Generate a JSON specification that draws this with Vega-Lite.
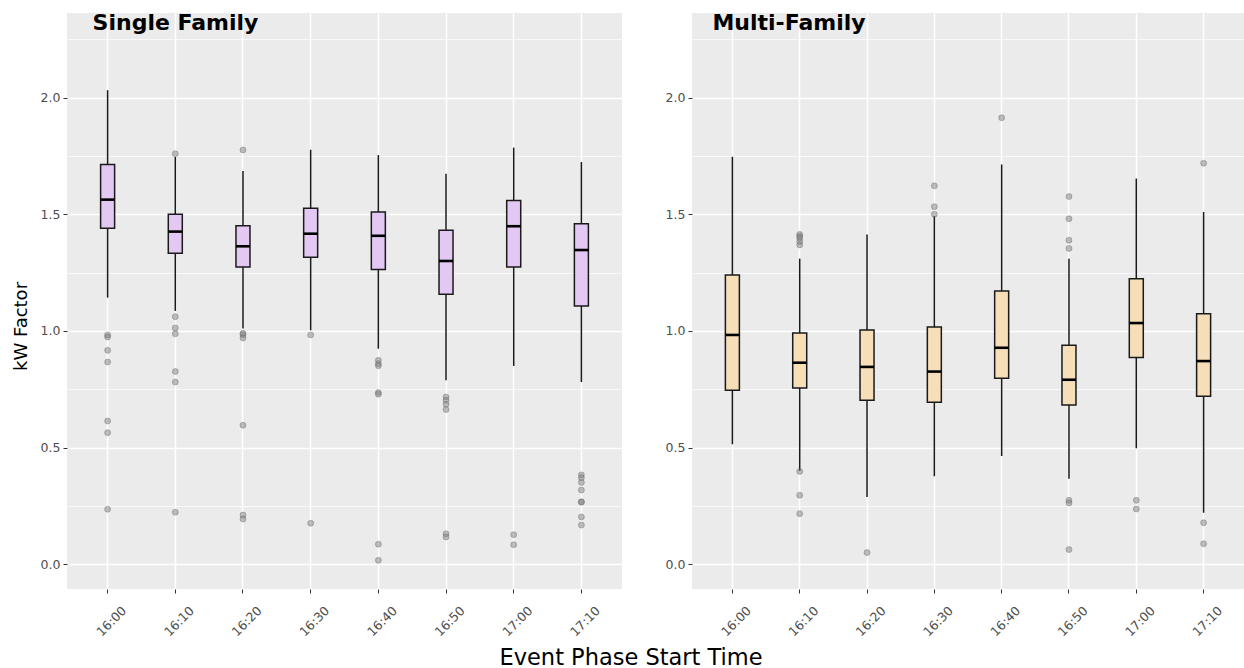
{
  "$schema": "https://vega.github.io/schema/vega-lite/v6.json",
  "background": "white",
  "padding": {"left": 12, "top": 12, "right": 0, "bottom": 0},
  "spacing": 43,
  "title": {"text": "Event Phase Start Time", "orient": "bottom", "anchor": "middle", "font": "DejaVu Sans", "fontSize": 22.5, "fontWeight": "normal", "color": "black", "offset": 9, "dx": 3},
  "datasets": {
    "panels": [
      {"panel": "SF", "label": "Single Family", "time": "16:00", "pos": 2.29},
      {"panel": "MF", "label": "Multi-Family", "time": "16:00", "pos": 2.29}
    ],
    "boxes": [
      {"panel": "SF", "time": "16:00", "lower": 1.143, "q1": 1.440, "median": 1.563, "q3": 1.714, "upper": 2.032},
      {"panel": "SF", "time": "16:10", "lower": 1.086, "q1": 1.333, "median": 1.426, "q3": 1.500, "upper": 1.746},
      {"panel": "SF", "time": "16:20", "lower": 1.011, "q1": 1.274, "median": 1.363, "q3": 1.451, "upper": 1.686},
      {"panel": "SF", "time": "16:30", "lower": 1.003, "q1": 1.316, "median": 1.417, "q3": 1.526, "upper": 1.777},
      {"panel": "SF", "time": "16:40", "lower": 0.924, "q1": 1.263, "median": 1.408, "q3": 1.510, "upper": 1.754},
      {"panel": "SF", "time": "16:50", "lower": 0.789, "q1": 1.157, "median": 1.300, "q3": 1.432, "upper": 1.674},
      {"panel": "SF", "time": "17:00", "lower": 0.850, "q1": 1.274, "median": 1.449, "q3": 1.559, "upper": 1.786},
      {"panel": "SF", "time": "17:10", "lower": 0.781, "q1": 1.107, "median": 1.347, "q3": 1.460, "upper": 1.724},
      {"panel": "MF", "time": "16:00", "lower": 0.514, "q1": 0.746, "median": 0.983, "q3": 1.240, "upper": 1.747},
      {"panel": "MF", "time": "16:10", "lower": 0.400, "q1": 0.756, "median": 0.864, "q3": 0.991, "upper": 1.310},
      {"panel": "MF", "time": "16:20", "lower": 0.288, "q1": 0.703, "median": 0.846, "q3": 1.004, "upper": 1.414},
      {"panel": "MF", "time": "16:30", "lower": 0.377, "q1": 0.694, "median": 0.826, "q3": 1.017, "upper": 1.493},
      {"panel": "MF", "time": "16:40", "lower": 0.464, "q1": 0.797, "median": 0.928, "q3": 1.171, "upper": 1.714},
      {"panel": "MF", "time": "16:50", "lower": 0.367, "q1": 0.683, "median": 0.791, "q3": 0.939, "upper": 1.310},
      {"panel": "MF", "time": "17:00", "lower": 0.497, "q1": 0.886, "median": 1.034, "q3": 1.224, "upper": 1.654},
      {"panel": "MF", "time": "17:10", "lower": 0.221, "q1": 0.720, "median": 0.871, "q3": 1.074, "upper": 1.510}
    ],
    "outliers": [
      {"panel": "SF", "time": "16:00", "value": 0.983}, {"panel": "SF", "time": "16:00", "value": 0.974}, {"panel": "SF", "time": "16:00", "value": 0.917}, {"panel": "SF", "time": "16:00", "value": 0.867}, {"panel": "SF", "time": "16:00", "value": 0.614}, {"panel": "SF", "time": "16:00", "value": 0.564}, {"panel": "SF", "time": "16:00", "value": 0.236},
      {"panel": "SF", "time": "16:10", "value": 1.760}, {"panel": "SF", "time": "16:10", "value": 1.061}, {"panel": "SF", "time": "16:10", "value": 1.013}, {"panel": "SF", "time": "16:10", "value": 0.988}, {"panel": "SF", "time": "16:10", "value": 0.826}, {"panel": "SF", "time": "16:10", "value": 0.781}, {"panel": "SF", "time": "16:10", "value": 0.223},
      {"panel": "SF", "time": "16:20", "value": 1.776}, {"panel": "SF", "time": "16:20", "value": 0.990}, {"panel": "SF", "time": "16:20", "value": 0.984}, {"panel": "SF", "time": "16:20", "value": 0.970}, {"panel": "SF", "time": "16:20", "value": 0.596}, {"panel": "SF", "time": "16:20", "value": 0.211}, {"panel": "SF", "time": "16:20", "value": 0.194},
      {"panel": "SF", "time": "16:30", "value": 0.983}, {"panel": "SF", "time": "16:30", "value": 0.176},
      {"panel": "SF", "time": "16:40", "value": 0.874}, {"panel": "SF", "time": "16:40", "value": 0.860}, {"panel": "SF", "time": "16:40", "value": 0.851}, {"panel": "SF", "time": "16:40", "value": 0.736}, {"panel": "SF", "time": "16:40", "value": 0.729}, {"panel": "SF", "time": "16:40", "value": 0.086}, {"panel": "SF", "time": "16:40", "value": 0.017},
      {"panel": "SF", "time": "16:50", "value": 0.717}, {"panel": "SF", "time": "16:50", "value": 0.703}, {"panel": "SF", "time": "16:50", "value": 0.686}, {"panel": "SF", "time": "16:50", "value": 0.663}, {"panel": "SF", "time": "16:50", "value": 0.131}, {"panel": "SF", "time": "16:50", "value": 0.117},
      {"panel": "SF", "time": "17:00", "value": 0.127}, {"panel": "SF", "time": "17:00", "value": 0.084},
      {"panel": "SF", "time": "17:10", "value": 0.383}, {"panel": "SF", "time": "17:10", "value": 0.371}, {"panel": "SF", "time": "17:10", "value": 0.351}, {"panel": "SF", "time": "17:10", "value": 0.318}, {"panel": "SF", "time": "17:10", "value": 0.268}, {"panel": "SF", "time": "17:10", "value": 0.266}, {"panel": "SF", "time": "17:10", "value": 0.203}, {"panel": "SF", "time": "17:10", "value": 0.168},
      {"panel": "MF", "time": "16:10", "value": 1.414}, {"panel": "MF", "time": "16:10", "value": 1.406}, {"panel": "MF", "time": "16:10", "value": 1.397}, {"panel": "MF", "time": "16:10", "value": 1.383}, {"panel": "MF", "time": "16:10", "value": 1.369}, {"panel": "MF", "time": "16:10", "value": 0.398}, {"panel": "MF", "time": "16:10", "value": 0.296}, {"panel": "MF", "time": "16:10", "value": 0.217},
      {"panel": "MF", "time": "16:20", "value": 0.050},
      {"panel": "MF", "time": "16:30", "value": 1.622}, {"panel": "MF", "time": "16:30", "value": 1.533}, {"panel": "MF", "time": "16:30", "value": 1.500},
      {"panel": "MF", "time": "16:40", "value": 1.914},
      {"panel": "MF", "time": "16:50", "value": 1.576}, {"panel": "MF", "time": "16:50", "value": 1.481}, {"panel": "MF", "time": "16:50", "value": 1.389}, {"panel": "MF", "time": "16:50", "value": 1.354}, {"panel": "MF", "time": "16:50", "value": 0.274}, {"panel": "MF", "time": "16:50", "value": 0.263}, {"panel": "MF", "time": "16:50", "value": 0.063},
      {"panel": "MF", "time": "17:00", "value": 0.274}, {"panel": "MF", "time": "17:00", "value": 0.237},
      {"panel": "MF", "time": "17:10", "value": 1.719}, {"panel": "MF", "time": "17:10", "value": 0.178}, {"panel": "MF", "time": "17:10", "value": 0.088}
    ]
  },
  "hconcat": [
    {
      "width": 555, "height": 576,
      "layer": [
        {
          "data": {"name": "boxes"},
          "transform": [{"filter": "datum.panel === 'SF'"}],
          "mark": {"type": "rule", "color": "#1a1a1a", "strokeWidth": 1.5},
          "encoding": {
            "x": {"field": "time", "type": "nominal", "sort": null, "scale": {"type": "band", "paddingInner": 0, "paddingOuter": 0.1},
              "axis": {"title": null, "bandPosition": 0.5, "domain": false, "grid": true, "gridColor": "white", "gridWidth": 1.5, "tickColor": "#333333", "tickSize": 4, "labelAngle": -45, "labelAlign": "center", "labelBaseline": "middle", "labelPadding": 28, "labelOffset": 4, "labelFont": "DejaVu Sans", "labelFontSize": 12.5, "labelColor": "#4d4d4d"}},
            "y": {"field": "lower", "type": "quantitative", "scale": {"domain": [-0.106, 2.363], "nice": false, "zero": false},
              "axis": {"title": "kW Factor", "titleFont": "DejaVu Sans", "titleFontSize": 18, "titleFontWeight": "normal", "titleColor": "black", "titlePadding": 10, "titleY": 313,
                "domain": false, "values": [0, 0.25, 0.5, 0.75, 1, 1.25, 1.5, 1.75, 2, 2.25],
                "labelExpr": "datum.value % 0.5 === 0 ? format(datum.value, '.1f') : ''",
                "gridColor": "white", "gridWidth": {"condition": {"test": "datum.value % 0.5 !== 0", "value": 0.7}, "value": 1.5},
                "tickOpacity": {"condition": {"test": "datum.value % 0.5 !== 0", "value": 0}, "value": 1},
                "tickColor": "#333333", "tickSize": 4, "labelPadding": 3, "labelFont": "DejaVu Sans", "labelFontSize": 12.5, "labelColor": "#4d4d4d"}},
            "y2": {"field": "upper"}
          }
        },
        {
          "data": {"name": "boxes"},
          "transform": [{"filter": "datum.panel === 'SF'"}],
          "mark": {"type": "bar", "size": 14, "fill": "#E4C8F4", "stroke": "#1a1a1a", "strokeWidth": 1.5},
          "encoding": {
            "x": {"field": "time", "type": "nominal", "sort": null},
            "y": {"field": "q1", "type": "quantitative"},
            "y2": {"field": "q3"}
          }
        },
        {
          "data": {"name": "boxes"},
          "transform": [{"filter": "datum.panel === 'SF'"}],
          "mark": {"type": "tick", "size": 14, "thickness": 2.6, "color": "black", "opacity": 1},
          "encoding": {
            "x": {"field": "time", "type": "nominal", "sort": null},
            "y": {"field": "median", "type": "quantitative"}
          }
        },
        {
          "data": {"name": "outliers"},
          "transform": [{"filter": "datum.panel === 'SF'"}],
          "mark": {"type": "point", "filled": true, "shape": "circle", "size": 36, "fill": "#808080", "fillOpacity": 0.5, "stroke": "#555555", "strokeOpacity": 0.4, "strokeWidth": 0.8},
          "encoding": {
            "x": {"field": "time", "type": "nominal", "sort": null},
            "y": {"field": "value", "type": "quantitative"}
          }
        },
        {
          "data": {"name": "panels"},
          "transform": [{"filter": "datum.panel === 'SF'"}],
          "mark": {"type": "text", "align": "left", "baseline": "alphabetic", "font": "DejaVu Sans", "fontSize": 22, "fontWeight": "bold", "color": "black", "dx": -15},
          "encoding": {
            "x": {"field": "time", "type": "nominal", "sort": null},
            "y": {"field": "pos", "type": "quantitative"},
            "text": {"field": "label"}
          }
        }
      ]
    },
    {
      "width": 552, "height": 576,
      "layer": [
        {
          "data": {"name": "boxes"},
          "transform": [{"filter": "datum.panel === 'MF'"}],
          "mark": {"type": "rule", "color": "#1a1a1a", "strokeWidth": 1.5},
          "encoding": {
            "x": {"field": "time", "type": "nominal", "sort": null, "scale": {"type": "band", "paddingInner": 0, "paddingOuter": 0.1},
              "axis": {"title": null, "bandPosition": 0.5, "domain": false, "grid": true, "gridColor": "white", "gridWidth": 1.5, "tickColor": "#333333", "tickSize": 4, "labelAngle": -45, "labelAlign": "center", "labelBaseline": "middle", "labelPadding": 28, "labelOffset": 4, "labelFont": "DejaVu Sans", "labelFontSize": 12.5, "labelColor": "#4d4d4d"}},
            "y": {"field": "lower", "type": "quantitative", "scale": {"domain": [-0.106, 2.363], "nice": false, "zero": false},
              "axis": {"title": null,
                "domain": false, "values": [0, 0.25, 0.5, 0.75, 1, 1.25, 1.5, 1.75, 2, 2.25],
                "labelExpr": "datum.value % 0.5 === 0 ? format(datum.value, '.1f') : ''",
                "gridColor": "white", "gridWidth": {"condition": {"test": "datum.value % 0.5 !== 0", "value": 0.7}, "value": 1.5},
                "tickOpacity": {"condition": {"test": "datum.value % 0.5 !== 0", "value": 0}, "value": 1},
                "tickColor": "#333333", "tickSize": 4, "labelPadding": 3, "labelFont": "DejaVu Sans", "labelFontSize": 12.5, "labelColor": "#4d4d4d"}},
            "y2": {"field": "upper"}
          }
        },
        {
          "data": {"name": "boxes"},
          "transform": [{"filter": "datum.panel === 'MF'"}],
          "mark": {"type": "bar", "size": 14, "fill": "#F5DEB8", "stroke": "#1a1a1a", "strokeWidth": 1.5},
          "encoding": {
            "x": {"field": "time", "type": "nominal", "sort": null},
            "y": {"field": "q1", "type": "quantitative"},
            "y2": {"field": "q3"}
          }
        },
        {
          "data": {"name": "boxes"},
          "transform": [{"filter": "datum.panel === 'MF'"}],
          "mark": {"type": "tick", "size": 14, "thickness": 2.6, "color": "black", "opacity": 1},
          "encoding": {
            "x": {"field": "time", "type": "nominal", "sort": null},
            "y": {"field": "median", "type": "quantitative"}
          }
        },
        {
          "data": {"name": "outliers"},
          "transform": [{"filter": "datum.panel === 'MF'"}],
          "mark": {"type": "point", "filled": true, "shape": "circle", "size": 36, "fill": "#808080", "fillOpacity": 0.5, "stroke": "#555555", "strokeOpacity": 0.4, "strokeWidth": 0.8},
          "encoding": {
            "x": {"field": "time", "type": "nominal", "sort": null},
            "y": {"field": "value", "type": "quantitative"}
          }
        },
        {
          "data": {"name": "panels"},
          "transform": [{"filter": "datum.panel === 'MF'"}],
          "mark": {"type": "text", "align": "left", "baseline": "alphabetic", "font": "DejaVu Sans", "fontSize": 22, "fontWeight": "bold", "color": "black", "dx": -20},
          "encoding": {
            "x": {"field": "time", "type": "nominal", "sort": null},
            "y": {"field": "pos", "type": "quantitative"},
            "text": {"field": "label"}
          }
        }
      ]
    }
  ],
  "config": {
    "view": {"fill": "#EBEBEB", "stroke": null},
    "axis": {"labelFont": "DejaVu Sans", "titleFont": "DejaVu Sans"}
  }
}
